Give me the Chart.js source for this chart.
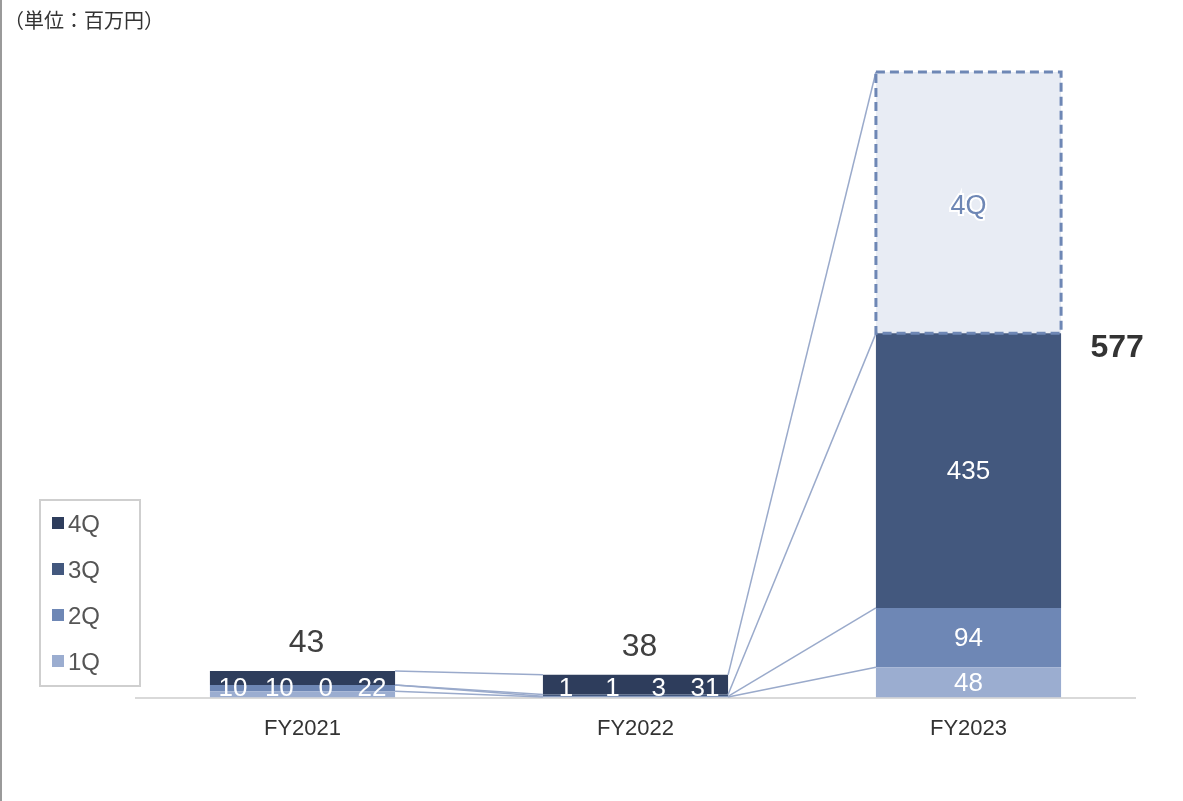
<!DOCTYPE html>
<html>
<head>
<meta charset="utf-8">
<script src="https://cdn.jsdelivr.net/npm/chart.js@4"></script>
<style>
  html, body { margin: 0; padding: 0; background: #fff; }
  #wrap { position: relative; width: 1183px; height: 801px; overflow: hidden; }
  #edge { position: absolute; left: 0; top: 0; width: 2px; height: 801px; background: #9a9a9a; }
  #unit { position: absolute; left: 4px; top: 6px; font: 20px "Noto Sans CJK JP", sans-serif; color: #333; line-height: 28px; }
  #legend { position: absolute; left: 39px; top: 499px; width: 102px; height: 188px;
    border: 2px solid #cfcfcf; box-sizing: border-box; }
  #legend div { position: absolute; left: 11px; font: 24px "Liberation Sans", Arial, sans-serif; color: #555; line-height: 26px; }
  #legend span { display: inline-block; width: 12px; height: 12px; margin-right: 4px; vertical-align: 3px; }
</style>
</head>
<body>
<div id="wrap">
  <canvas id="c" width="1183" height="801"></canvas>
  <div id="edge"></div>
  <div id="unit">（単位：百万円）</div>
  <div id="legend"></div>
</div>
<script>
// Quarterly figures, millions of yen
const years = ["FY2021", "FY2022", "FY2023"];
const q1 = [10, 1, 48];
const q2 = [10, 1, 94];
const q3 = [0, 3, 435];
const q4 = [22, 31, 414];          // FY2023 4Q is a forecast placeholder
const forecast = [false, false, true];
const totals = [43, 38, 577];

const quarterNames = ["1Q", "2Q", "3Q", "4Q"];
const colors = ["#9badd0", "#6e87b5", "#43587e", "#2e3d5c"];
const lineColor = "#9aaacb";
const font = '"Liberation Sans", Arial, sans-serif';

// legend, top to bottom 4Q..1Q
document.getElementById("legend").innerHTML = [3, 2, 1, 0].map((k, i) =>
  `<div style="top:${10 + i * 46}px"><span style="background:${colors[k]}"></span>${quarterNames[k]}</div>`).join("");

// lines joining each segment top between neighbouring bars
const connectors = {
  id: "connectors",
  afterDatasetsDraw(chart) {
    const ctx = chart.ctx;
    ctx.save();
    ctx.strokeStyle = lineColor; ctx.lineWidth = 1.5;
    chart.data.datasets.forEach((ds, di) => {
      const els = chart.getDatasetMeta(di).data;
      for (let j = 0; j < els.length - 1; j++) {
        const a = els[j].getProps(["x", "y", "width"], true);
        const b = els[j + 1].getProps(["x", "y", "width"], true);
        ctx.beginPath();
        ctx.moveTo(a.x + a.width / 2, a.y);
        ctx.lineTo(b.x - b.width / 2, b.y);
        ctx.stroke();
      }
    });
    ctx.restore();
  }
};

const labels = {
  id: "labels",
  afterDatasetsDraw(chart) {
    const ctx = chart.ctx;
    ctx.save();
    ctx.textAlign = "center"; ctx.textBaseline = "middle";
    chart.data.datasets.forEach((ds, di) => {
      chart.getDatasetMeta(di).data.forEach((el, j) => {
        const p = el.getProps(["x", "y", "base", "width"], true);
        if (forecast[j]) {
          if (di === 3) {
            // dashed outline for the forecast box
            ctx.setLineDash([9, 5]); ctx.lineWidth = 3; ctx.strokeStyle = "#6e87b5";
            ctx.strokeRect(p.x - p.width / 2, p.y, p.width, p.base - p.y);
            ctx.setLineDash([]);
            ctx.font = "27px " + font;
            ctx.lineWidth = 4; ctx.strokeStyle = "#fff";
            ctx.strokeText("4Q", p.x, (p.y + p.base) / 2 + 4);
            ctx.fillStyle = "#6e87b5";
            ctx.fillText("4Q", p.x, (p.y + p.base) / 2 + 4);
          } else {
            ctx.font = "26px " + font; ctx.fillStyle = "#fff";
            ctx.fillText(ds.data[j], p.x, (p.y + p.base) / 2 + 1);
          }
        } else {
          // small bars: values laid out side by side
          const left = p.x - p.width / 2;
          const base = chart.scales.y.getPixelForValue(0);
          ctx.font = "26px " + font; ctx.fillStyle = "#fff";
          ctx.fillText(ds.data[j], left + p.width * (di + 0.5) / 4, base - 9);
        }
      });
    });
    // totals
    const top = chart.getDatasetMeta(3).data;
    const mid = chart.getDatasetMeta(2).data;
    totals.forEach((t, j) => {
      const p = top[j].getProps(["x", "y", "width"], true);
      if (forecast[j]) {
        const m = mid[j].getProps(["x", "y", "width"], true);
        ctx.font = "bold 32px " + font; ctx.fillStyle = "#333";
        ctx.fillText(t, m.x + m.width / 2 + 56, m.y + 15);
      } else {
        ctx.font = "32px " + font; ctx.fillStyle = "#404040";
        ctx.fillText(t, p.x + 4, p.y - 28);
      }
    });
    ctx.restore();
  }
};

new Chart(document.getElementById("c"), {
  type: "bar",
  data: {
    labels: years,
    datasets: [
      { label: "1Q", data: q1, backgroundColor: colors[0] },
      { label: "2Q", data: q2, backgroundColor: colors[1] },
      { label: "3Q", data: q3, backgroundColor: colors[2] },
      { label: "4Q", data: q4, backgroundColor: forecast.map(f => f ? "#e8ecf4" : colors[3]) },
    ].map(d => ({ ...d, borderWidth: 0, categoryPercentage: 1, barPercentage: 0.556 })),
  },
  options: {
    responsive: false, animation: false,
    layout: { padding: { left: 136, right: 48, top: 60, bottom: 41 } },
    plugins: { legend: { display: false }, tooltip: { enabled: false } },
    scales: {
      x: {
        stacked: true,
        grid: { display: false, drawTicks: false },
        border: { color: "#d9d9d9", width: 2 },
        ticks: { color: "#333", padding: 18, font: { size: 22, family: font } },
      },
      y: { stacked: true, display: false, min: 0, max: 1010 },
    },
  },
  plugins: [connectors, labels],
});
</script>
